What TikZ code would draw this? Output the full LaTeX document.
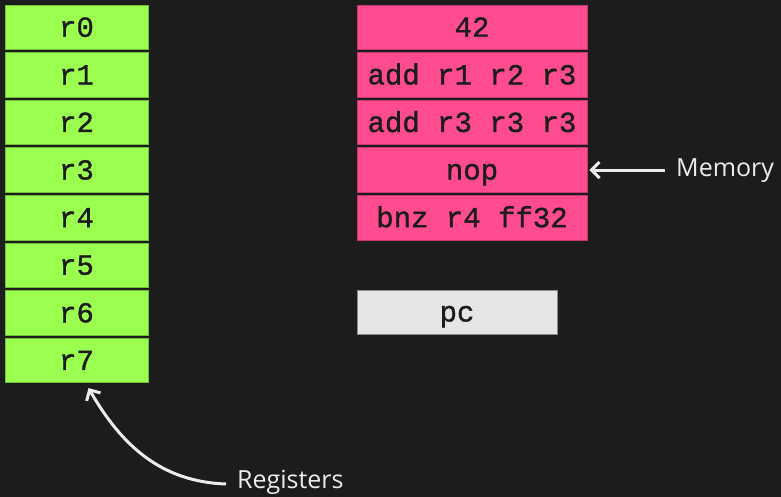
\documentclass[tikz,border=0pt]{standalone}
\usepackage{fontspec}
\usepackage{tikz}
\usetikzlibrary{positioning,arrows.meta}
\newfontfamily\codefont[FakeBold=1.2]{Liberation Mono}
\newfontfamily\labelfont{Open Sans}
\definecolor{canvas}{HTML}{1C1C1C}
\definecolor{lime}{HTML}{9AFF4F}
\definecolor{limeedge}{HTML}{6FC035}
\definecolor{hotpink}{HTML}{FF4B8F}
\definecolor{pinkedge}{HTML}{C93670}
\definecolor{pcgray}{HTML}{E5E5E5}
\definecolor{grayedge}{HTML}{8A8A8A}
\definecolor{chalk}{HTML}{ECECEC}
\tikzset{
  regbox/.style={draw=limeedge, fill=lime, line width=0.8pt, minimum width=143pt, minimum height=44.5pt, inner sep=0pt, text height=19pt, text depth=0pt, font=\codefont\fontsize{29}{32}\selectfont, text=canvas},
  membox/.style={draw=pinkedge, fill=hotpink, line width=0.8pt, minimum width=230pt, minimum height=44.5pt, inner sep=0pt, text height=19pt, text depth=0pt, font=\codefont\fontsize{29}{32}\selectfont, text=canvas},
  pcbox/.style={draw=grayedge, fill=pcgray, line width=0.8pt, minimum width=200pt, minimum height=44pt, inner sep=0pt, text height=19pt, text depth=0pt, font=\codefont\fontsize{29}{32}\selectfont, text=canvas},
  tag/.style={inner xsep=11pt, inner ysep=0pt, text=chalk, font=\labelfont\fontsize{25}{28}\selectfont},
  pointer/.style={-{Straight Barb[length=8pt,width=16pt]}, line width=3pt, draw=chalk}
}
\begin{document}
\begin{tikzpicture}[x=1pt, y=-1pt, node distance=2.3pt]
  \fill[canvas] (0,0) rectangle (781,497);
  \useasboundingbox (0,0) rectangle (781,497);
  % registers
  \node[regbox] (reg0) at (76.5,27.25) {r0};
  \node[regbox, below=of reg0] (reg1) {r1};
  \node[regbox, below=of reg1] (reg2) {r2};
  \node[regbox, below=of reg2] (reg3) {r3};
  \node[regbox, below=of reg3] (reg4) {r4};
  \node[regbox, below=of reg4] (reg5) {r5};
  \node[regbox, below=of reg5] (reg6) {r6};
  \node[regbox, below=of reg6] (reg7) {r7};
  % memory
  \node[membox] (word0) at (472,27.25) {42};
  \node[membox, below=of word0] (word1) {add r1 r2 r3};
  \node[membox, below=of word1] (word2) {add r3 r3 r3};
  \node[membox, below=of word2] (word3) {nop};
  \node[membox, below=of word3] (word4) {bnz r4 ff32};
  \node[pcbox] (pc) at (457,312) {pc};
  % labels
  \node[tag, anchor=base west] (memlabel) at (665,176) {Memory};
  \node[tag, anchor=base west] (reglabel) at (226,488) {Registers};
  \draw[pointer] (memlabel.west |- word3.east) -- ([xshift=2pt]word3.east);
  \draw[pointer] ([yshift=4pt]reglabel.base west) to[out=178,in=-60] ([xshift=12pt,yshift=-5pt]reg7.south);
\end{tikzpicture}
\end{document}
